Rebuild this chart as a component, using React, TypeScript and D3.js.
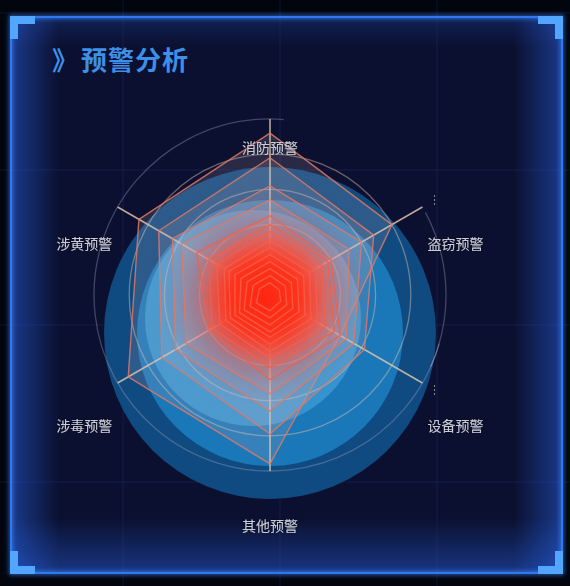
import React from 'react';
import * as d3 from 'd3';

// ---------- data ----------
const indicators = ['消防预警', '盗窃预警', '设备预警', '其他预警', '涉毒预警', '涉黄预警'];
const maxValue = 100;
const s1 = [92, 80, 46, 96, 93, 86];
const s2 = [78, 68, 62, 79, 71, 73];
const s3 = [62, 60, 55, 66, 62, 64];
const s4 = [54, 52, 50, 56, 55, 58];
const s5 = [45, 40, 46, 48, 40, 48];
const s6 = [40, 38, 42, 41, 38, 40];
const s7 = [36, 34, 36, 36, 33, 35];
const s8 = [31, 30, 31, 32, 29, 30];
const s9 = [27, 26, 27, 28, 26, 27];
const s10 = [23, 22, 23, 24, 23, 23];
const s11 = [19, 18, 19, 21, 20, 19];
const s12 = [15, 14, 15, 17, 17, 15];
const s13 = [11, 10, 11, 13, 13, 11];
const s14 = [7, 6, 7, 9, 9, 7];
const seriesList = [s1, s2, s3, s4, s5, s6, s7, s8, s9, s10, s11, s12, s13, s14];
const splitNumber = 5;
const titleText = '预警分析';

// ---------- layout ----------
const W = 570, H = 586;
const CX = 270, CY = 295, R = 176;       // radar
const LCX = 270, LCY = 334, LR = 182;    // label ring / background discs
const PX = 11, PY = 17, PW = 551, PH = 556;

export default function App() {
  const rScale = d3.scaleLinear().domain([0, maxValue]).range([0, R]);
  const step = (Math.PI * 2) / indicators.length;
  const radial = d3
    .lineRadial<number>()
    .angle((_, i) => i * step)
    .radius((d) => rScale(d))
    .curve(d3.curveLinearClosed);
  const ticks = d3.range(1, splitNumber + 1).map((k) => (maxValue / splitNumber) * k);
  const arcGen = d3.arc();

  const gridXs = [123, 280, 437];
  const gridYs = [13, 170, 325, 482];

  const bracket = (x: number, y: number, sx: number, sy: number) => {
    const L = 25, T = 8;
    return `M${x},${y} h${sx * L} v${sy * T} h${-sx * (L - T)} v${sy * (L - 2 - T)} h${-sx * T} Z`;
  };

  return (
    <svg width={W} height={H} style={{ position: 'absolute', left: 0, top: 0, display: 'block' }}
      fontFamily="'Noto Sans CJK SC', 'Noto Sans', sans-serif">
      <defs>
        <linearGradient id="gl" x1="0" x2="1" y1="0" y2="0">
          <stop offset="0" stopColor="rgb(40,100,230)" stopOpacity="0.5" />
          <stop offset="1" stopColor="rgb(40,100,230)" stopOpacity="0" />
        </linearGradient>
        <linearGradient id="gr" x1="1" x2="0" y1="0" y2="0">
          <stop offset="0" stopColor="rgb(40,100,230)" stopOpacity="0.5" />
          <stop offset="1" stopColor="rgb(40,100,230)" stopOpacity="0" />
        </linearGradient>
        <linearGradient id="gb" x1="0" x2="0" y1="1" y2="0">
          <stop offset="0" stopColor="rgb(40,100,230)" stopOpacity="0.45" />
          <stop offset="1" stopColor="rgb(40,100,230)" stopOpacity="0" />
        </linearGradient>
        <linearGradient id="gt" x1="0" x2="0" y1="0" y2="1">
          <stop offset="0" stopColor="rgb(40,100,230)" stopOpacity="0.2" />
          <stop offset="1" stopColor="rgb(40,100,230)" stopOpacity="0" />
        </linearGradient>
        <filter id="blur2" x="-10%" y="-10%" width="120%" height="120%">
          <feGaussianBlur stdDeviation="2" />
        </filter>
        <filter id="tshadow" x="-20%" y="-40%" width="140%" height="180%">
          <feDropShadow dx="0" dy="0" stdDeviation="1" floodColor="#000" floodOpacity="0.6" />
        </filter>
        <radialGradient id="rgArea" gradientUnits="userSpaceOnUse" cx={-6} cy={4} r={R}>
          <stop offset="0" stopColor="rgb(255,38,18)" stopOpacity="0.6" />
          <stop offset="0.2" stopColor="rgb(255,50,28)" stopOpacity="0.4" />
          <stop offset="0.4" stopColor="rgb(240,110,100)" stopOpacity="0.18" />
          <stop offset="0.6" stopColor="rgb(215,185,195)" stopOpacity="0.14" />
          <stop offset="1" stopColor="rgb(215,185,195)" stopOpacity="0.16" />
        </radialGradient>
      </defs>

      {/* page background */}
      <rect x={0} y={0} width={W} height={H} fill="#03050e" />

      {/* panel */}
      <rect x={PX} y={PY} width={PW} height={PH} fill="#0b1030" />
      <rect x={PX} y={PY} width={48} height={PH} fill="url(#gl)" />
      <rect x={PX + PW - 48} y={PY} width={48} height={PH} fill="url(#gr)" />
      <rect x={PX} y={PY + PH - 55} width={PW} height={55} fill="url(#gb)" />
      <rect x={PX} y={PY} width={PW} height={30} fill="url(#gt)" />

      {/* faint grid */}
      <g stroke="rgb(45,90,200)" strokeOpacity={0.18} strokeWidth={1}>
        {gridXs.map((x) => <line key={'x' + x} x1={x} x2={x} y1={0} y2={H} />)}
        {gridYs.map((y) => <line key={'y' + y} x1={0} x2={W} y1={y} y2={y} />)}
      </g>

      {/* border */}
      <rect x={PX} y={PY} width={PW} height={PH} fill="none" stroke="#3a86ff" strokeWidth={4} filter="url(#blur2)" opacity={0.7} />
      <rect x={PX} y={PY} width={PW} height={PH} fill="none" stroke="#2f78f0" strokeWidth={2} />

      {/* corner brackets */}
      <g fill="#52a6ff">
        <path d={bracket(PX - 1, PY - 1, 1, 1)} />
        <path d={bracket(PX + PW + 1, PY - 1, -1, 1)} />
        <path d={bracket(PX - 1, PY + PH + 1, 1, -1)} />
        <path d={bracket(PX + PW + 1, PY + PH + 1, -1, -1)} />
      </g>

      {/* title */}
      <text x={52} y={70} fill="#3d8fe8" fontSize={26} fontWeight={700}>
        <tspan>》</tspan>
        <tspan x={81} letterSpacing={1}>{titleText}</tspan>
      </text>

      {/* background discs */}
      <g transform={`translate(${LCX},${LCY - 1})`}>
        <circle r={166} fill="#0f4a80" />
        <circle r={133} fill="#1a77b8" />
        <circle cx={-17} cy={-15} r={108} fill="#3594d0" />
      </g>

      {/* radar */}
      <g transform={`translate(${CX},${CY})`}>
        {/* split circles */}
        {ticks.map((t, i) => (
          <circle key={t} r={rScale(t)} fill="none"
            stroke={i === ticks.length - 1 ? 'rgb(170,170,195)' : 'rgb(225,195,175)'}
            strokeOpacity={i === ticks.length - 1 ? 0.35 : 0.45} strokeWidth={1.3}
            strokeDasharray={i === ticks.length - 1 ? `${(2 * Math.PI * R) * 0.84} 2000` : undefined}
            transform={i === ticks.length - 1 ? 'rotate(-28)' : undefined} />
        ))}
        <path d={arcGen({ innerRadius: R - 0.6, outerRadius: R + 0.6, startAngle: Math.PI / 2 + 0.28, endAngle: Math.PI / 2 + 0.42 }) as string}
          fill="rgb(170,170,195)" fillOpacity={0.45} />
        {/* axes */}
        {indicators.map((_, i) => {
          const a = i * step;
          return (
            <line key={i} x1={0} y1={0} x2={Math.sin(a) * R} y2={-Math.cos(a) * R}
              stroke="#dcc4aa" strokeOpacity={0.85} strokeWidth={1.6} />
          );
        })}
        {/* small ticks beyond the right axes */}
        {[1, 2].map((i) => {
          const a = i * step;
          return (
            <line key={'tk' + i} x1={Math.sin(a) * 190} y1={-Math.cos(a) * 190 - 5} x2={Math.sin(a) * 190} y2={-Math.cos(a) * 190 + 5}
              stroke="#c8c0b8" strokeOpacity={0.7} strokeWidth={1} strokeDasharray="2 2" />
          );
        })}
        {/* series */}
        {seriesList.map((s, i) => (
          <path key={i} d={radial(s) as string} fill="url(#rgArea)"
            stroke={i < 4 ? 'rgb(225,120,100)' : 'rgb(245,95,70)'} strokeOpacity={0.85} strokeWidth={1.4}
            strokeLinejoin="round" />
        ))}
      </g>

      {/* indicator names */}
      <g fill="#c9ccd6" fontSize={14} filter="url(#tshadow)">
        {indicators.map((name, i) => {
          const a = i * step;
          const sx = Math.sin(a), cy = -Math.cos(a);
          const x = LCX + sx * LR;
          const y = LCY + cy * LR;
          const anchor = Math.abs(sx) < 0.01 ? 'middle' : sx > 0 ? 'start' : 'end';
          const baseline = Math.abs(sx) < 0.01 ? (cy < 0 ? 'auto' : 'hanging') : 'middle';
          const dy = Math.abs(sx) < 0.01 ? (cy < 0 ? 1 : 2) : 2;
          return (
            <text key={name} x={x} y={y + dy} textAnchor={anchor} dominantBaseline={baseline}>{name}</text>
          );
        })}
      </g>
    </svg>
  );
}
